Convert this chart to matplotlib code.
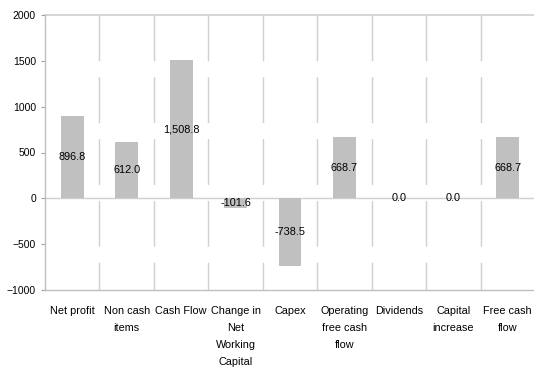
import matplotlib.pyplot as plt
import numpy as np

plt.rcParams['font.family'] = ['Liberation Sans', 'DejaVu Sans']
plt.rcParams['lines.scale_dashes'] = False

## Cash flow bridge data
categories = ['Net profit', 'Non cash\nitems', 'Cash Flow', 'Change in\nNet\nWorking\nCapital',
              'Capex', 'Operating\nfree cash\nflow', 'Dividends', 'Capital\nincrease', 'Free cash\nflow']
values = [896.8, 612.0, 1508.8, -101.6, -738.5, 668.7, 0.0, 0.0, 668.7]
yticks = [-1000, -500, 0, 500, 1000, 1500, 2000]

grid_col = '#D0D0D0'
bar_col = '#C0C0C0'

fig = plt.figure(figsize=(5.34, 3.69), dpi=100)
ax = fig.add_axes([45/534, 1-290/369, 490/534, 275/369])
x = np.arange(len(categories))

# broken vertical separators between categories, drawn from the top down
for b in x[:-1] + 0.5:
    ax.plot([b, b], [yticks[-1], yticks[0]], color=grid_col, lw=1, dashes=(33, 11.5), zorder=1)
ax.axhline(0, color=grid_col, lw=1, zorder=1)
ax.axhline(yticks[-1], color=grid_col, lw=1.2, zorder=1, clip_on=False)

ax.bar(x, values, width=0.42, color=bar_col, zorder=2)
for xi, v in zip(x, values):
    ax.text(xi, v/2, f'{v:,.1f}', ha='center', va='center', fontsize=7.8, zorder=3)

ax.set_xlim(-0.5, len(categories)-0.5)
ax.set_ylim(yticks[0], yticks[-1])
ax.set_yticks(yticks)
ax.set_xticks(x)
ax.set_xticklabels(categories, linespacing=1.87)
ax.tick_params(axis='x', length=0, pad=11.5, labelsize=7.8)
ax.tick_params(axis='y', length=3, width=0.8, color='#A0A0A0', labelsize=7.5, pad=3.5)
for s in ['top', 'right']:
    ax.spines[s].set_visible(False)
for s in ['left', 'bottom']:
    ax.spines[s].set_color('#BFBFBF')
    ax.spines[s].set_linewidth(1)

fig.savefig('out.png', dpi=100)
